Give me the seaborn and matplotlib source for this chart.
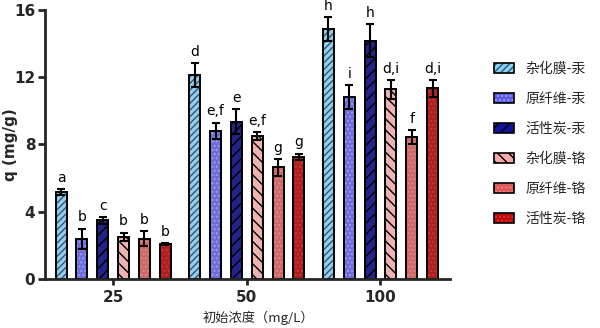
import numpy as np
import pandas as pd
import matplotlib
matplotlib.use("Agg")
import matplotlib.pyplot as plt
import matplotlib.colors as mcolors
from matplotlib.container import BarContainer
import seaborn as sns

# Initial concentrations (mg/L) and adsorbent/metal series
concentrations = ["25", "50", "100"]
materials = ["杂化膜-汞", "原纤维-汞", "活性炭-汞", "杂化膜-铬", "原纤维-铬", "活性炭-铬"]

# Adsorption capacity q (mg/g), one list per series, ordered by concentration
q_hyb_hg = [5.17, 12.12, 14.85]
q_fib_hg = [2.40, 8.80, 10.83]
q_ac_hg = [3.50, 9.36, 14.17]
q_hyb_cr = [2.52, 8.49, 11.27]
q_fib_cr = [2.40, 6.64, 8.45]
q_ac_cr = [2.07, 7.26, 11.33]

# Standard deviations
sd_hyb_hg = [0.20, 0.72, 0.70]
sd_fib_hg = [0.60, 0.50, 0.72]
sd_ac_hg = [0.20, 0.76, 1.00]
sd_hyb_cr = [0.25, 0.25, 0.55]
sd_fib_cr = [0.45, 0.50, 0.40]
sd_ac_cr = [0.05, 0.20, 0.48]

# Significance letters
sig_hyb_hg = ["a", "d", "h"]
sig_fib_hg = ["b", "e,f", "i"]
sig_ac_hg = ["c", "e", "h"]
sig_hyb_cr = ["b", "e,f", "d,i"]
sig_fib_cr = ["b", "g", "f"]
sig_ac_cr = ["b", "g", "d,i"]

values = [q_hyb_hg, q_fib_hg, q_ac_hg, q_hyb_cr, q_fib_cr, q_ac_cr]
errors = [sd_hyb_hg, sd_fib_hg, sd_ac_hg, sd_hyb_cr, sd_fib_cr, sd_ac_cr]
letters = [sig_hyb_hg, sig_fib_hg, sig_ac_hg, sig_hyb_cr, sig_fib_cr, sig_ac_cr]

face_colors = ["#8FD0F0", "#5B5BE8", "#12129C", "#F6AAAA", "#DE5858", "#C20808"]
hatches = ["/////", "....", "///", "\\\\\\", "....", "...."]
hatch_colors = ["#1E5A86", "#9C9CF6", "#000000", "#000000", "#E98585", "#D43434"]

df = pd.DataFrame({
    "conc": np.repeat([concentrations], len(materials), axis=0).ravel(),
    "material": np.repeat(materials, len(concentrations)),
    "q": np.ravel(values),
})

sns.set_style("ticks")
plt.rcParams["font.family"] = ["DejaVu Sans", "Noto Sans CJK SC"]
plt.rcParams["hatch.linewidth"] = 1.0

fig = plt.figure(figsize=(6.0, 3.28), dpi=100)
ax = fig.add_axes([0.075, 0.149, 0.675, 0.821])

sns.barplot(data=df, x="conc", y="q", hue="material", order=concentrations,
            hue_order=materials, palette=face_colors, errorbar=None,
            width=0.936, gap=0.47, edgecolor="black", linewidth=1.4,
            legend=False, ax=ax)

bar_groups = [c for c in ax.containers if isinstance(c, BarContainer)]
for i, cont in enumerate(bar_groups):
    xs, ys = [], []
    for patch in cont.patches:
        patch.set_hatch(hatches[i])
        patch._hatch_color = mcolors.to_rgba(hatch_colors[i])
        xs.append(patch.get_x() + patch.get_width() / 2)
        ys.append(patch.get_height())
    ax.errorbar(xs, ys, yerr=errors[i], fmt="none", ecolor="black",
                elinewidth=1.5, capsize=3, capthick=1.5, zorder=5)
    for x, y, e, s in zip(xs, ys, errors[i], letters[i]):
        ax.text(x, y + e + 0.25, s, ha="center", va="bottom", fontsize=10,
                color="black")

ax.set_xlim(-0.51, 2.52)
ax.set_ylim(0, 16)
ax.set_yticks([0, 4, 8, 12, 16])
for side in ["top", "right"]:
    ax.spines[side].set_visible(False)
for side in ["left", "bottom"]:
    ax.spines[side].set_linewidth(2)
ax.tick_params(axis="y", width=2, length=5, labelsize=11, pad=2)
ax.tick_params(axis="x", width=2, length=4, labelsize=11)
for lab in ax.get_yticklabels() + ax.get_xticklabels():
    lab.set_fontweight("bold")

ax.set_ylabel("q (mg/g)", fontsize=11, fontweight="bold")
ax.yaxis.set_label_coords(-0.066, 0.5)
ax.set_xlabel("初始浓度（mg/L）", fontsize=9.5,
              family=["Noto Sans CJK SC", "DejaVu Sans"])
ax.xaxis.set_label_coords(0.526, -0.118)

handles = []
for i, name in enumerate(materials):
    h = plt.Rectangle((0, 0), 1, 1, facecolor=face_colors[i], edgecolor="black",
                      linewidth=1.2, hatch=hatches[i])
    h._hatch_color = mcolors.to_rgba(hatch_colors[i])
    handles.append(h)
fig.legend(handles, materials, loc="upper left", bbox_to_anchor=(0.803, 0.85),
           frameon=False, handlelength=1.45, handleheight=0.7, handletextpad=0.8,
           labelspacing=1.15,
           prop={"family": ["Noto Sans CJK SC", "DejaVu Sans"], "size": 10})

fig.savefig("out.png", dpi=100)
